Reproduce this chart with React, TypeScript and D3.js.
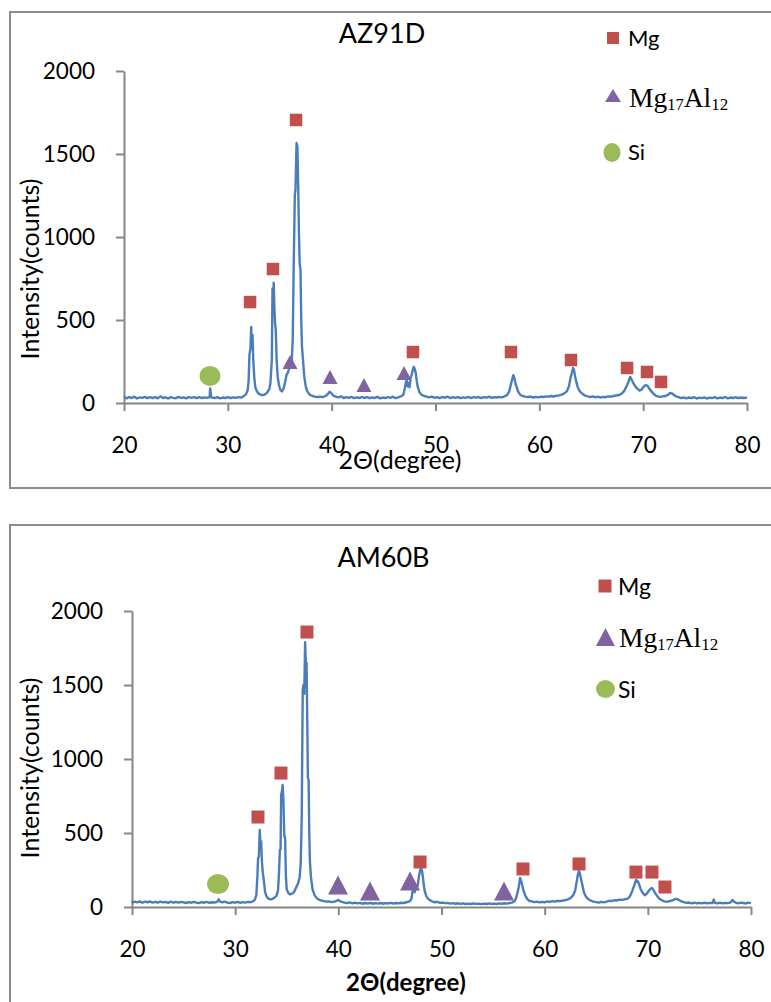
import React, { useEffect, useRef } from 'react';
import * as d3 from 'd3';

type Pt = [number, number];

const xTicks = [20, 30, 40, 50, 60, 70, 80];
const yTicks = [0, 500, 1000, 1500, 2000];
const titles = ['AZ91D', 'AM60B'];

// AZ91D scan (2theta, counts)
const az91dScan: Pt[] = [
  [20.0, 40], [20.25, 28], [20.5, 36], [20.75, 30], [21.0, 38], [21.25, 27], [21.5, 34], [21.75, 31],
  [22.0, 37], [22.25, 29], [22.5, 35], [22.75, 30], [23.0, 36], [23.25, 28], [23.5, 40], [23.75, 30],
  [24.0, 34], [24.25, 27], [24.5, 35], [24.75, 31], [25.0, 29], [25.25, 37], [25.5, 30], [25.75, 34],
  [26.0, 28], [26.25, 36], [26.5, 31], [26.75, 35], [27.0, 29], [27.25, 36], [27.5, 30], [27.75, 34],
  [28.0, 31], [28.25, 36], [28.3, 88], [28.4, 34], [28.75, 30], [29.0, 35], [29.25, 28], [29.5, 33],
  [29.75, 30], [30.0, 36], [30.25, 29], [30.5, 34], [30.75, 31], [31.0, 35], [31.25, 32], [31.5, 40],
  [31.75, 52], [31.9, 75], [32.0, 130], [32.08, 290], [32.18, 330], [32.25, 458], [32.31, 330],
  [32.38, 410], [32.45, 260], [32.55, 150], [32.65, 95], [32.8, 70], [33.0, 55], [33.25, 48],
  [33.5, 50], [33.75, 60], [34.0, 85], [34.1, 120], [34.18, 200], [34.24, 260], [34.3, 690],
  [34.36, 620], [34.42, 725], [34.48, 580], [34.55, 480], [34.62, 440], [34.7, 260], [34.8, 160],
  [34.92, 110], [35.05, 80], [35.2, 70], [35.35, 85], [35.5, 120], [35.65, 170], [35.8, 185],
  [35.95, 220], [36.05, 215], [36.15, 250], [36.25, 380], [36.35, 850], [36.45, 1250], [36.52, 1290],
  [36.62, 1566], [36.7, 1545], [36.78, 1300], [36.85, 1020], [36.92, 840], [37.0, 800], [37.07, 500],
  [37.14, 340], [37.24, 260], [37.36, 160], [37.5, 100], [37.65, 70], [37.9, 50], [38.15, 42],
  [38.4, 38], [38.65, 36], [38.9, 38], [39.15, 35], [39.4, 42], [39.65, 55], [39.8, 68], [39.95, 60],
  [40.15, 45], [40.4, 38], [40.65, 34], [40.9, 40], [41.15, 30], [41.4, 36], [41.65, 31], [41.9, 37],
  [42.15, 29], [42.4, 34], [42.65, 30], [42.9, 36], [43.15, 31], [43.4, 35], [43.65, 29], [43.9, 34],
  [44.15, 30], [44.4, 37], [44.65, 28], [44.9, 33], [45.15, 30], [45.4, 36], [45.65, 31], [45.9, 38],
  [46.15, 29], [46.4, 34], [46.65, 40], [46.9, 48], [47.05, 90], [47.15, 125], [47.22, 140],
  [47.3, 100], [47.4, 120], [47.5, 95], [47.6, 150], [47.7, 170], [47.8, 195], [47.9, 218],
  [48.0, 205], [48.1, 180], [48.2, 130], [48.3, 95], [48.45, 65], [48.65, 50], [48.9, 42], [49.15, 38],
  [49.4, 34], [49.65, 39], [49.9, 31], [50.15, 35], [50.4, 29], [50.65, 36], [50.9, 32], [51.15, 38],
  [51.4, 30], [51.65, 35], [51.9, 31], [52.15, 36], [52.4, 29], [52.65, 34], [52.9, 31], [53.15, 37],
  [53.4, 30], [53.65, 35], [53.9, 32], [54.15, 36], [54.4, 30], [54.65, 35], [54.9, 32], [55.15, 38],
  [55.4, 31], [55.65, 35], [55.9, 33], [56.15, 37], [56.4, 34], [56.65, 40], [56.9, 48], [57.1, 70],
  [57.25, 110], [57.4, 145], [57.5, 168], [57.6, 150], [57.7, 120], [57.8, 100], [57.95, 70],
  [58.15, 50], [58.4, 42], [58.65, 38], [58.9, 35], [59.15, 39], [59.4, 33], [59.65, 37], [59.9, 34],
  [60.15, 38], [60.4, 36], [60.65, 40], [60.9, 38], [61.15, 42], [61.4, 39], [61.65, 44], [61.9, 46],
  [62.15, 50], [62.4, 58], [62.65, 70], [62.85, 100], [63.0, 150], [63.15, 185], [63.25, 211],
  [63.35, 195], [63.45, 160], [63.55, 130], [63.7, 95], [63.9, 70], [64.15, 55], [64.4, 45],
  [64.65, 40], [64.9, 36], [65.15, 40], [65.4, 34], [65.65, 38], [65.9, 33], [66.15, 37], [66.4, 35],
  [66.65, 40], [66.9, 38], [67.15, 42], [67.4, 45], [67.65, 48], [67.9, 55], [68.15, 70], [68.4, 100],
  [68.6, 130], [68.75, 157], [68.9, 140], [69.05, 120], [69.25, 100], [69.45, 85], [69.65, 75],
  [69.85, 80], [70.0, 95], [70.15, 105], [70.3, 108], [70.45, 100], [70.6, 85], [70.8, 70], [71.0, 55],
  [71.2, 45], [71.4, 40], [71.65, 37], [71.9, 40], [72.15, 42], [72.4, 50], [72.6, 60], [72.75, 58],
  [72.9, 52], [73.1, 42], [73.4, 36], [73.65, 30], [73.9, 34], [74.15, 28], [74.4, 33], [74.65, 29],
  [74.9, 35], [75.15, 27], [75.4, 32], [75.65, 29], [75.9, 34], [76.15, 27], [76.4, 32], [76.65, 30],
  [76.9, 35], [77.15, 28], [77.4, 33], [77.65, 29], [77.9, 36], [78.15, 28], [78.4, 33], [78.65, 30],
  [78.9, 35], [79.15, 29], [79.4, 33], [79.65, 30], [79.9, 32], [80.0, 31],
];
const az91dMg: Pt[] = [
  [32.14, 608], [34.35, 807], [36.57, 1705], [47.83, 307], [57.27, 307],
  [63.05, 259], [68.45, 211], [70.37, 187], [71.72, 127],
];
const az91dAl: Pt[] = [[35.99, 247], [39.84, 157], [43.11, 108], [46.97, 181]];
const az91dSi: Pt[] = [[28.28, 163]];

// AM60B scan
const am60bScan: Pt[] = [
  [20.0, 42], [20.1, 30], [20.25, 36], [20.5, 31], [20.75, 38], [21.0, 29], [21.25, 36], [21.5, 32],
  [21.75, 37], [22.0, 30], [22.25, 35], [22.5, 29], [22.75, 36], [23.0, 31], [23.25, 34], [23.5, 28],
  [23.75, 36], [24.0, 30], [24.25, 34], [24.5, 29], [24.75, 35], [25.0, 31], [25.25, 27], [25.5, 33],
  [25.75, 29], [26.0, 35], [26.25, 30], [26.5, 26], [26.75, 33], [27.0, 29], [27.25, 34], [27.5, 28],
  [27.75, 32], [28.0, 30], [28.25, 35], [28.4, 52], [28.5, 38], [28.75, 32], [29.0, 36], [29.25, 30],
  [29.5, 27], [29.75, 33], [30.0, 29], [30.25, 34], [30.5, 28], [30.75, 33], [31.0, 30], [31.25, 35],
  [31.5, 32], [31.75, 40], [31.9, 48], [32.05, 80], [32.15, 200], [32.22, 330], [32.3, 340],
  [32.38, 520], [32.45, 420], [32.52, 445], [32.6, 300], [32.68, 230], [32.78, 180], [32.9, 100],
  [33.05, 70], [33.25, 55], [33.5, 52], [33.75, 60], [34.0, 75], [34.15, 110], [34.25, 230],
  [34.33, 385], [34.4, 390], [34.46, 760], [34.53, 780], [34.6, 824], [34.68, 720], [34.76, 480],
  [34.84, 470], [34.92, 200], [35.0, 120], [35.15, 95], [35.3, 85], [35.5, 90], [35.7, 100],
  [35.9, 130], [36.1, 160], [36.25, 200], [36.35, 290], [36.45, 600], [36.55, 1466], [36.62, 1500],
  [36.7, 1440], [36.78, 1790], [36.85, 1640], [36.92, 1650], [37.0, 1200], [37.05, 870],
  [37.12, 860], [37.18, 500], [37.25, 300], [37.35, 200], [37.5, 120], [37.7, 80], [37.9, 60],
  [38.1, 50], [38.35, 44], [38.6, 40], [38.85, 36], [39.1, 38], [39.35, 33], [39.6, 36], [39.85, 42],
  [40.0, 48], [40.15, 40], [40.35, 35], [40.6, 30], [40.85, 27], [41.1, 31], [41.35, 25], [41.6, 29],
  [41.85, 24], [42.1, 28], [42.35, 22], [42.6, 27], [42.85, 23], [43.1, 28], [43.35, 22], [43.6, 26],
  [43.85, 23], [44.1, 27], [44.35, 22], [44.6, 26], [44.85, 24], [45.1, 28], [45.35, 23], [45.6, 27],
  [45.85, 25], [46.1, 29], [46.35, 27], [46.6, 32], [46.85, 36], [47.0, 45], [47.1, 60], [47.2, 110],
  [47.3, 115], [47.4, 100], [47.5, 130], [47.6, 120], [47.7, 150], [47.8, 200], [47.9, 240],
  [48.0, 262], [48.1, 250], [48.2, 200], [48.3, 140], [48.4, 100], [48.55, 70], [48.7, 55],
  [48.9, 45], [49.1, 38], [49.35, 32], [49.6, 35], [49.85, 28], [50.1, 30], [50.35, 26], [50.6, 28],
  [50.85, 23], [51.1, 26], [51.35, 22], [51.6, 25], [51.85, 21], [52.1, 24], [52.35, 20], [52.6, 23],
  [52.85, 20], [53.1, 24], [53.35, 21], [53.6, 23], [53.85, 19], [54.1, 23], [54.35, 20], [54.6, 24],
  [54.85, 21], [55.1, 23], [55.35, 20], [55.6, 24], [55.85, 22], [56.1, 25], [56.35, 23], [56.6, 27],
  [56.85, 30], [57.05, 38], [57.2, 55], [57.35, 90], [57.5, 140], [57.62, 196], [57.72, 175],
  [57.82, 150], [57.95, 110], [58.1, 80], [58.3, 55], [58.5, 42], [58.75, 38], [59.0, 33],
  [59.25, 36], [59.5, 31], [59.75, 35], [60.0, 32], [60.25, 38], [60.5, 34], [60.75, 40], [61.0, 36],
  [61.25, 42], [61.5, 40], [61.75, 44], [62.0, 46], [62.25, 52], [62.5, 60], [62.75, 78],
  [62.95, 110], [63.1, 170], [63.22, 220], [63.32, 243], [63.42, 225], [63.52, 190], [63.65, 150],
  [63.8, 100], [64.0, 70], [64.25, 52], [64.5, 42], [64.75, 36], [65.0, 33], [65.25, 30], [65.5, 35],
  [65.75, 31], [66.0, 36], [66.25, 42], [66.5, 40], [66.75, 46], [67.0, 44], [67.25, 50], [67.5, 48],
  [67.75, 52], [68.0, 55], [68.25, 70], [68.5, 110], [68.7, 150], [68.85, 182], [69.0, 175],
  [69.15, 155], [69.3, 120], [69.5, 95], [69.7, 80], [69.9, 90], [70.1, 110], [70.25, 122],
  [70.4, 128], [70.55, 115], [70.7, 95], [70.9, 75], [71.1, 58], [71.3, 48], [71.55, 40], [71.8, 35],
  [72.0, 38], [72.25, 42], [72.5, 48], [72.7, 55], [72.85, 53], [73.0, 48], [73.2, 40], [73.5, 33],
  [73.75, 28], [74.0, 30], [74.25, 25], [74.5, 29], [74.75, 24], [75.0, 28], [75.25, 24], [75.5, 29],
  [75.75, 25], [76.0, 28], [76.25, 26], [76.4, 50], [76.5, 28], [76.75, 24], [77.0, 29], [77.25, 25],
  [77.5, 28], [77.75, 26], [78.0, 30], [78.2, 48], [78.35, 36], [78.5, 30], [78.75, 25], [79.0, 30],
  [79.25, 27], [79.5, 24], [79.75, 29], [80.0, 26],
];
const am60bMg: Pt[] = [
  [32.21, 608], [34.44, 905], [36.96, 1858], [47.92, 304], [57.9, 257],
  [63.33, 291], [68.85, 236], [70.4, 236], [71.66, 135],
];
const am60bAl: Pt[] = [[39.97, 149], [43.07, 108], [46.95, 176], [56.06, 108]];
const am60bSi: Pt[] = [[28.34, 155]];

const C = {
  line: '#4a7ebb',
  mg: '#c0504d',
  al: '#8064a2',
  si: '#9bbb59',
  axis: '#868686',
  frame: '#8c8c8c',
};
const SANS = 'Lato, "Open Sans", sans-serif';
const SERIF = '"Liberation Serif", "Times New Roman", serif';

const panels = [
  {
    title: titles[0], scan: az91dScan, mg: az91dMg, al: az91dAl, si: az91dSi,
    frameY: 12, frameH: 476, left: 124, right: 747, top: 71, bottom: 403,
    titleX: 382, titleY: 43, xLabelX: 400, xLabelY: 469, xLabelBold: false,
    yLabelY: 269, sq: 12.5, triW: 15, triH: 14, siRx: 10.5, siRy: 10,
    lg: { sx: 613, sy: 38, s: 12, tx: 613, ty: 95.5, tw: 16, th: 13, cx: 612, cy: 152.5, crx: 8.5, cry: 9.5, textX: 628, fs: 22, b1: 46, b2: 107, b3: 160 },
  },
  {
    title: titles[1], scan: am60bScan, mg: am60bMg, al: am60bAl, si: am60bSi,
    frameY: 525, frameH: 600, left: 132, right: 751, top: 611, bottom: 907,
    titleX: 383.5, titleY: 567, xLabelX: 406, xLabelY: 991, xLabelBold: true,
    yLabelY: 768, sq: 13, triW: 20, triH: 19, siRx: 11, siRy: 10,
    lg: { sx: 605, sy: 586, s: 13, tx: 605.5, ty: 637, tw: 19, th: 18, cx: 605.5, cy: 689, crx: 9.5, cry: 9, textX: 618, fs: 23, b1: 595, b2: 647, b3: 698 },
  },
];

const tri = (cx: number, cy: number, w: number, h: number) =>
  `M${cx - w / 2},${cy + h / 2}L${cx},${cy - h / 2}L${cx + w / 2},${cy + h / 2}Z`;

function Panel({ p }: { p: (typeof panels)[number] }) {
  const xRef = useRef<SVGGElement>(null);
  const yRef = useRef<SVGGElement>(null);
  const x = d3.scaleLinear().domain([20, 80]).range([p.left, p.right]);
  const y = d3.scaleLinear().domain([0, 2000]).range([p.bottom, p.top]);

  useEffect(() => {
    const gx = d3.select(xRef.current!);
    gx.call(d3.axisBottom(x).tickValues(xTicks).tickSize(8).tickSizeOuter(0).tickPadding(26).tickFormat(d3.format('d')));
    const gy = d3.select(yRef.current!);
    gy.call(d3.axisLeft(y).tickValues(yTicks).tickSize(8).tickSizeOuter(0).tickPadding(21).tickFormat(d3.format('d')));
    [gx, gy].forEach((g) => {
      g.attr('font-family', SANS).attr('font-size', 22.5);
      g.selectAll('path, line').attr('stroke', C.axis).attr('stroke-width', 2);
      g.selectAll('text').attr('fill', '#000');
    });
  }, []);

  const line = d3.line<Pt>().x((d) => x(d[0])).y((d) => y(d[1]));
  const lg = p.lg;

  return (
    <g>
      <rect x={10} y={p.frameY} width={800} height={p.frameH} fill="#fff" stroke={C.frame} strokeWidth={2} />
      <text x={p.titleX} y={p.titleY} textAnchor="middle" fontFamily={SANS} fontSize={27}>{p.title}</text>
      <g ref={xRef} transform={`translate(0,${p.bottom})`} />
      <g ref={yRef} transform={`translate(${p.left},0)`} />
      <path d={line(p.scan)!} fill="none" stroke={C.line} strokeWidth={2.4} strokeLinejoin="round" />
      {p.mg.map((d, i) => (
        <rect key={'m' + i} x={x(d[0]) - p.sq / 2} y={y(d[1]) - p.sq / 2} width={p.sq} height={p.sq} fill={C.mg} />
      ))}
      {p.al.map((d, i) => (
        <path key={'a' + i} d={tri(x(d[0]), y(d[1]), p.triW, p.triH)} fill={C.al} />
      ))}
      {p.si.map((d, i) => (
        <ellipse key={'s' + i} cx={x(d[0])} cy={y(d[1])} rx={p.siRx} ry={p.siRy} fill={C.si} />
      ))}
      <text x={p.xLabelX} y={p.xLabelY} textAnchor="middle" fontFamily={SANS} fontSize={p.xLabelBold ? 24 : 25} fontWeight={p.xLabelBold ? 'bold' : 'normal'}>
        2Θ(degree)
      </text>
      <text transform={`translate(33,${p.yLabelY}) rotate(-90)`} textAnchor="middle" dominantBaseline="middle" fontFamily={SANS} fontSize={25}>
        Intensity(counts)
      </text>
      {/* legend */}
      <rect x={lg.sx - lg.s / 2} y={lg.sy - lg.s / 2} width={lg.s} height={lg.s} fill={C.mg} />
      <text x={lg.textX} y={lg.b1} fontFamily={SANS} fontSize={lg.fs}>Mg</text>
      <path d={tri(lg.tx, lg.ty, lg.tw, lg.th)} fill={C.al} />
      <text x={lg.textX + 1} y={lg.b2} fontFamily={SERIF} fontSize={27.5}>
        Mg<tspan fontSize={16.5} dy={3}>17</tspan><tspan dy={-3}>Al</tspan><tspan fontSize={17} dy={3}>12</tspan>
      </text>
      <ellipse cx={lg.cx} cy={lg.cy} rx={lg.crx} ry={lg.cry} fill={C.si} />
      <text x={lg.textX} y={lg.b3} fontFamily={SANS} fontSize={lg.fs}>Si</text>
    </g>
  );
}

export default function App() {
  return (
    <svg width={771} height={1002} style={{ position: 'absolute', left: 0, top: 0, background: '#fff' }}>
      {panels.map((p) => (
        <Panel key={p.title} p={p} />
      ))}
    </svg>
  );
}
